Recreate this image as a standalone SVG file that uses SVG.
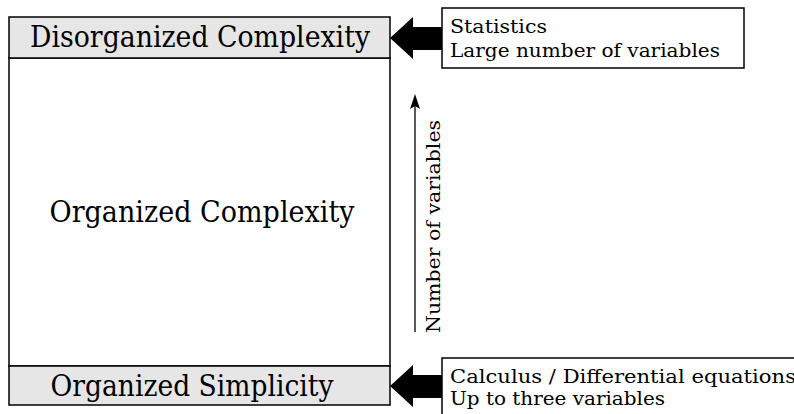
<svg xmlns="http://www.w3.org/2000/svg" width="794" height="414" viewBox="0 0 794 414">
<style>
.big{font-family:'DejaVu Serif','Liberation Serif',serif;font-size:29px;fill:#000}
.sm{font-family:'DejaVu Serif','Liberation Serif',serif;font-size:19px;fill:#000}
.box{stroke:#000;stroke-width:1.5}
</style>
<rect width="794" height="414" fill="#fff"/>
<g id="organized-complexity">
<rect class="box" x="9" y="58" width="381" height="308" fill="#fff"/>
<text class="big" x="202" y="222" text-anchor="middle" textLength="305" lengthAdjust="spacingAndGlyphs">Organized Complexity</text>
</g>
<g id="disorganized-complexity">
<rect class="box" x="9" y="17" width="381" height="41" fill="#e6e6e6"/>
<text class="big" x="200" y="47" text-anchor="middle" textLength="340" lengthAdjust="spacingAndGlyphs">Disorganized Complexity</text>
</g>
<g id="organized-simplicity">
<rect class="box" x="9" y="366" width="381" height="39" fill="#e6e6e6"/>
<text class="big" x="192" y="396" text-anchor="middle" textLength="283" lengthAdjust="spacingAndGlyphs">Organized Simplicity</text>
</g>
<g id="statistics">
<rect class="box" x="442" y="8" width="302" height="60" fill="#fff"/>
<text class="sm" x="450" y="33" textLength="97" lengthAdjust="spacingAndGlyphs">Statistics</text>
<text class="sm" x="450" y="57" textLength="270" lengthAdjust="spacingAndGlyphs">Large number of variables</text>
</g>
<g id="calculus">
<rect class="box" x="442" y="358" width="370" height="70" fill="#fff"/>
<text class="sm" x="450" y="383" textLength="346" lengthAdjust="spacingAndGlyphs">Calculus / Differential equations</text>
<text class="sm" x="450" y="405" textLength="215" lengthAdjust="spacingAndGlyphs">Up to three variables</text>
</g>
<g id="connectors">
<polygon points="390,38 413,17 413,27 442,27 442,50 413,50 413,59" fill="#000"/>
<polygon points="390,386 413,365 413,375 442,375 442,398 413,398 413,407" fill="#000"/>
<line x1="415" y1="332" x2="415" y2="100" stroke="#000" stroke-width="1.3"/>
<path d="M415,94 L420,109 L415,106 L410,109 Z" fill="#000"/>
<text class="sm" transform="translate(440,333) rotate(-90)" textLength="213" lengthAdjust="spacingAndGlyphs">Number of variables</text>
</g>
</svg>
